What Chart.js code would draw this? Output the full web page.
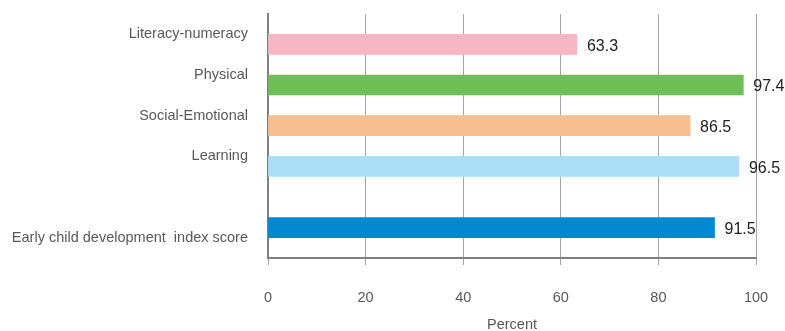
<!DOCTYPE html>
<html lang="en">
<head>
    <meta charset="UTF-8">
    <title>Early child development index</title>
    <script src="https://cdn.jsdelivr.net/npm/chart.js@4.4.1/dist/chart.umd.min.js"></script>
</head>
<style>
    body { margin: 0; background: #fff; }
    #wrap { width: 785px; height: 331px; position: relative; }
</style>
<body>
    <div id="wrap"><canvas id="chart"></canvas></div>
</body>
<script>
    // categories, top to bottom (blank row separates the overall score)
    const categories = ['Literacy-numeracy', 'Physical', 'Social-Emotional', 'Learning', '', 'Early child development  index score'];
    const domainValues = [63.3, 97.4, 86.5, 96.5, null, null];
    const domainColors = ['#F8B5C3', '#6EBF55', '#F9BE8F', '#AADFF8', '#ffffff', '#ffffff'];
    const indexValues = [null, null, null, null, null, 91.5];
    const xTicks = [0, 20, 40, 60, 80, 100];

    const FONT = "'Liberation Sans', Arial, sans-serif";

    // writes the value just past the end of each bar
    const valueLabels = {
        id: 'valueLabels',
        afterDatasetsDraw(chart) {
            const c = chart.ctx;
            c.save();
            c.font = '16px ' + FONT;
            c.fillStyle = '#222222';
            c.textAlign = 'left';
            c.textBaseline = 'middle';
            chart.data.datasets.forEach((ds, i) => {
                chart.getDatasetMeta(i).data.forEach((bar, j) => {
                    const v = ds.data[j];
                    if (v === null) return;
                    c.fillText(v.toFixed(1), bar.x + 10, bar.y + 2);
                });
            });
            c.restore();
        }
    };

    const ctx = document.getElementById('chart').getContext('2d');
    const myChart = new Chart(ctx, {
        type: 'bar',
        data: {
            labels: categories,
            datasets: [{
                label: 'Index score',
                data: indexValues,
                backgroundColor: '#0089D0',
                barThickness: 20
            }, {
                label: 'Domains',
                data: domainValues,
                backgroundColor: domainColors,
                barThickness: 20
            }]
        },
        options: {
            indexAxis: 'y',
            responsive: true,
            maintainAspectRatio: false,
            animation: false,
            layout: { padding: { top: 14, right: 29, left: 0, bottom: 0 } },
            plugins: {
                legend: { display: false },
                tooltip: { enabled: false }
            },
            scales: {
                x: {
                    min: 0,
                    max: 100,
                    afterBuildTicks: (scale) => { scale.ticks = xTicks.map(v => ({ value: v })); },
                    afterFit: (scale) => {
                        scale.height = 73;
                        scale.paddingLeft = 0;
                        scale.paddingRight = 0;
                    },
                    grid: { color: '#A6A6A6', lineWidth: 1, tickLength: 7, drawTicks: true },
                    border: { display: true, color: '#808080', width: 2 },
                    ticks: { color: '#595959', font: { family: FONT, size: 14.5 }, padding: 24 },
                    title: {
                        display: true,
                        text: 'Percent',
                        color: '#595959',
                        font: { family: FONT, size: 14.5 },
                        padding: { top: 4, bottom: -3 }
                    }
                },
                y: {
                    afterFit: (scale) => {
                        scale.width = 268;
                        scale.paddingTop = 0;
                        scale.paddingBottom = 0;
                    },
                    grid: { display: false },
                    border: { display: true, color: '#808080', width: 2 },
                    ticks: { color: '#595959', font: { family: FONT, size: 14.5 }, padding: 12 }
                }
            }
        },
        plugins: [valueLabels]
    });
</script>
</html>
